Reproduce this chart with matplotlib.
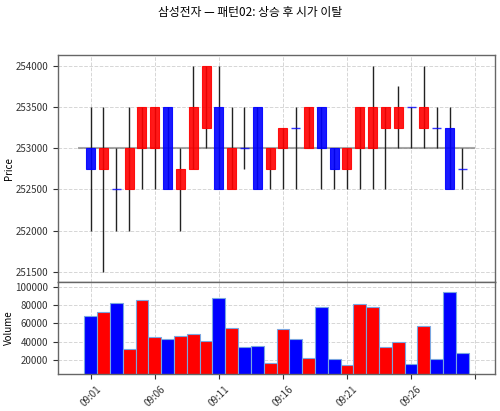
import matplotlib
matplotlib.use("Agg")
import matplotlib.pyplot as plt
from matplotlib.patches import Rectangle

plt.rcParams['font.family'] = ['Noto Sans CJK KR', 'DejaVu Sans']

times = ["09:%02d" % m for m in range(1, 31)]
opens = [253000, 252750, 252500, 252500, 253000, 253000, 253500, 252500, 252750, 253250,
         253500, 252500, 253000, 253500, 252750, 253000, 253250, 253000, 253500, 253000,
         252750, 253000, 253000, 253250, 253250, 253500, 253250, 253250, 253250, 252750]
closes = [252750, 253000, 252500, 253000, 253500, 253500, 252500, 252750, 253500, 254000,
          252500, 253000, 253000, 252500, 253000, 253250, 253250, 253500, 253000, 252750,
          253000, 253500, 253500, 253500, 253500, 253500, 253500, 253250, 252500, 252750]
highs = [253500, 253500, 253000, 253500, 253500, 253500, 253500, 253000, 254000, 254000,
         254000, 253500, 253500, 253500, 253000, 253250, 253500, 253500, 253500, 253000,
         253000, 253500, 254000, 253500, 253750, 253500, 254000, 253500, 253500, 253000]
lows = [252000, 251500, 252000, 252000, 252500, 252500, 252500, 252000, 252750, 253000,
        252500, 252500, 252750, 252500, 252500, 252500, 252500, 253000, 252500, 252500,
        252500, 252500, 252500, 252500, 253000, 253000, 253000, 253000, 252500, 252500]
volumes = [67500, 72700, 82500, 32000, 85100, 45500, 42600, 45800, 48700, 40400,
           87300, 55300, 34500, 35300, 16400, 53500, 42600, 22200, 78200, 20700,
           14500, 81500, 77500, 33800, 39600, 15300, 56700, 20700, 93800, 27300]
ref_price = 253000
title = "삼성전자 — 패턴02: 상승 후 시가 이탈"

fig = plt.figure(figsize=(5, 4.11), dpi=100)
ax = fig.add_axes([0.116, 0.3131, 0.874, 0.5524])
axv = fig.add_axes([0.116, 0.09, 0.874, 0.2231], sharex=ax)

n = len(times)
xs = list(range(n))
w = 0.7
for i in xs:
    o, c, h, l = opens[i], closes[i], highs[i], lows[i]
    up = c > o
    col = '#ff0000' if up else '#0000ff'
    ax.vlines(i, l, h, color='#222222', linewidth=1.0, zorder=2)
    if c == o:
        ax.hlines(o, i - w / 2, i + w / 2, color=col, linewidth=1.0, zorder=3, alpha=0.8)
    else:
        ax.add_patch(Rectangle((i - w / 2, min(o, c)), w, abs(c - o),
                               facecolor=col, edgecolor=col, alpha=0.9,
                               linewidth=0.8, zorder=3))
ax.hlines(ref_price, -1, n, color='gray', linewidth=1.5, alpha=0.7, zorder=1)

vcols = ['#ff0000' if closes[i] > opens[i] else '#0000ff' for i in xs]
axv.bar(xs, volumes, width=1.0, color=vcols, edgecolor='#7aa6e0', linewidth=0.8, zorder=2)

ax.set_xlim(-2.55, 31.55)
ax.set_ylim(251375, 254125)
ax.set_yticks(range(251500, 254001, 500))
axv.set_ylim(4700, 104800)
axv.set_yticks(range(20000, 100001, 20000))

tick_pos = list(range(0, 31, 5))
tick_lab = [times[p] if p < n else "" for p in tick_pos]
axv.set_xticks(tick_pos)
axv.set_xticklabels(tick_lab, rotation=45)
plt.setp(ax.get_xticklabels(), visible=False)
ax.tick_params(axis='x', length=0)

for a in (ax, axv):
    a.grid(True, linestyle='--', color='#cccccc', linewidth=0.7, alpha=0.8)
    a.set_axisbelow(True)
    a.tick_params(labelsize=7, colors='#333333')
    for s in a.spines.values():
        s.set_color('#666666')
        s.set_linewidth(1.0)

ax.set_ylabel("Price", fontsize=7)
axv.set_ylabel("Volume", fontsize=7)
ax.yaxis.set_label_coords(-0.1, 0.5)
axv.yaxis.set_label_coords(-0.1, 0.5)

fig.suptitle(title, fontsize=8.5, y=0.985)

fig.savefig("out.png", dpi=100)
